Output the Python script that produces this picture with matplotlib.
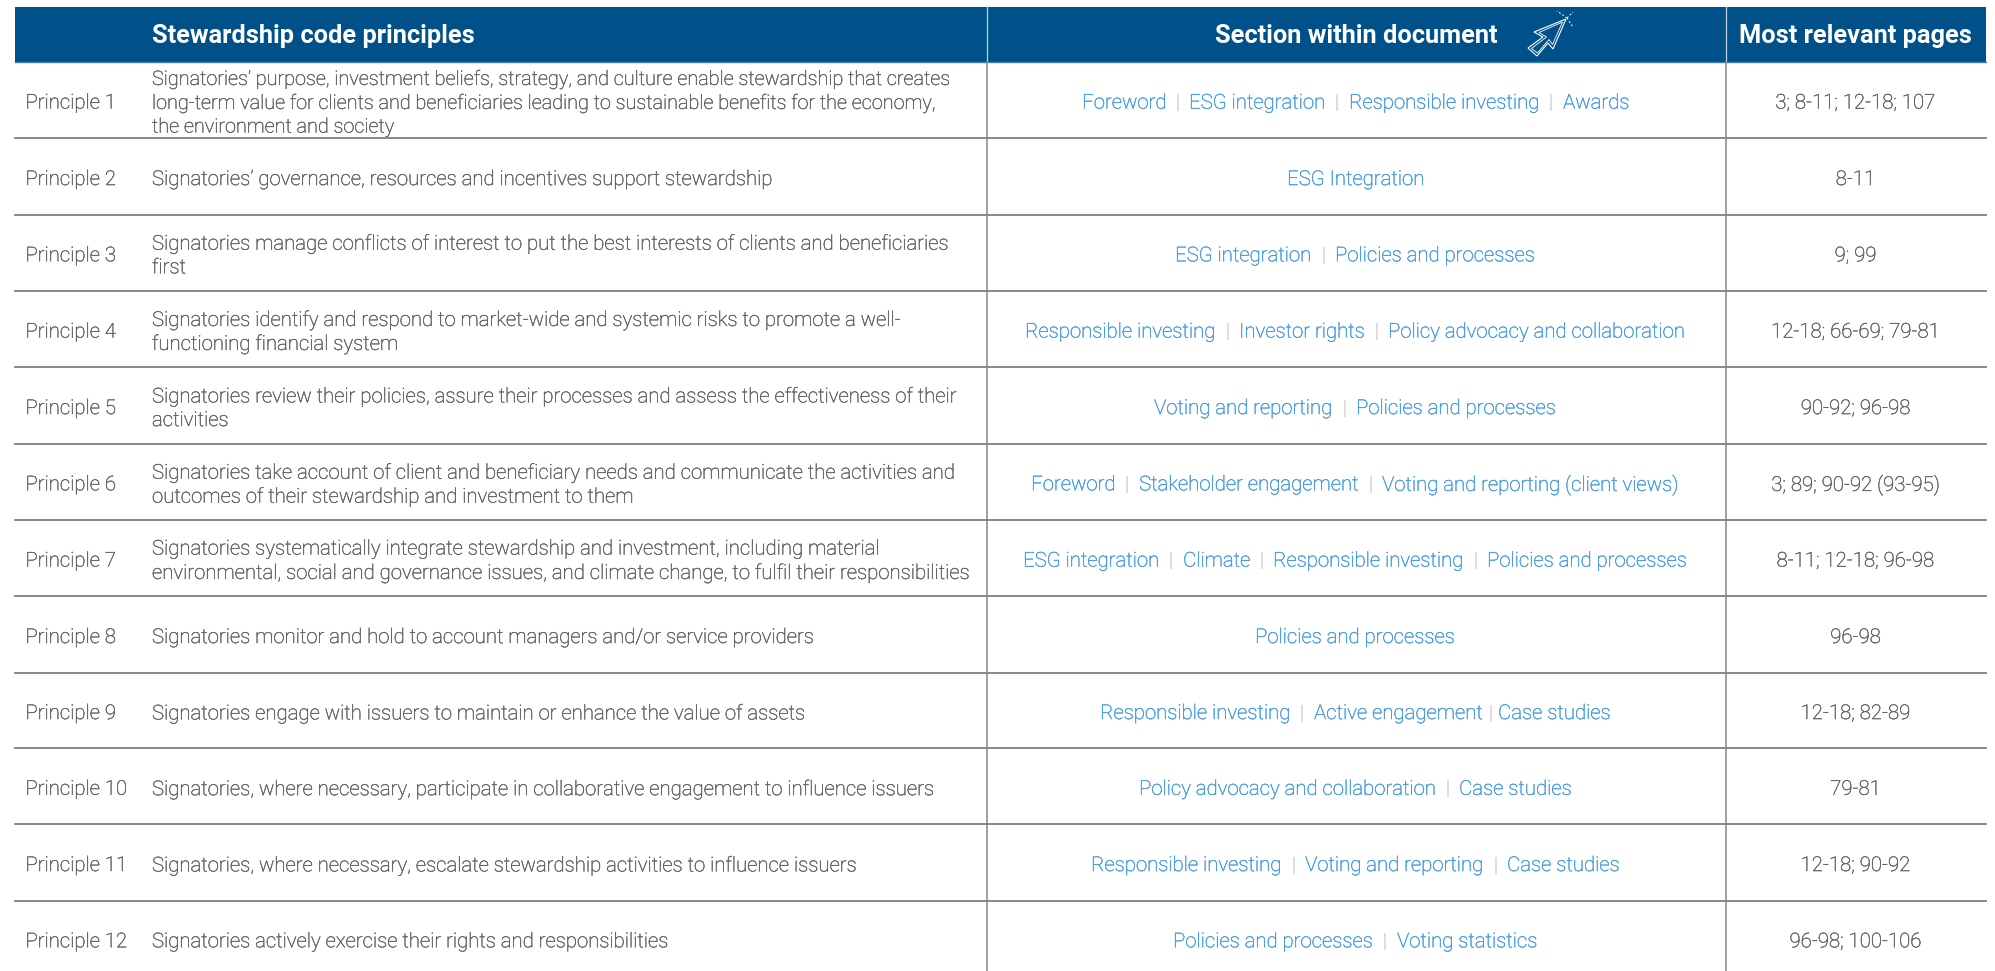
import matplotlib
matplotlib.use('Agg')
import matplotlib.pyplot as plt
import matplotlib.patheffects as pe
from matplotlib.patches import Rectangle, Polygon

plt.rcParams['font.family'] = ['Roboto', 'DejaVu Sans']

#
# Table content
#

headers = ['Stewardship code principles', 'Section within document', 'Most relevant pages']

principles = ['Principle %d' % i for i in range(1, 13)]

descriptions = [
    ['Signatories\u2019 purpose, investment beliefs, strategy, and culture enable stewardship that creates',
     'long-term value for clients and beneficiaries leading to sustainable benefits for the economy,',
     'the environment and society'],
    ['Signatories\u2019 governance, resources and incentives support stewardship'],
    ['Signatories manage conflicts of interest to put the best interests of clients and beneficiaries',
     'first'],
    ['Signatories identify and respond to market-wide and systemic risks to promote a well-',
     'functioning financial system'],
    ['Signatories review their policies, assure their processes and assess the effectiveness of their',
     'activities'],
    ['Signatories take account of client and beneficiary needs and communicate the activities and',
     'outcomes of their stewardship and investment to them'],
    ['Signatories systematically integrate stewardship and investment, including material',
     'environmental, social and governance issues, and climate change, to fulfil their responsibilities'],
    ['Signatories monitor and hold to account managers and/or service providers'],
    ['Signatories engage with issuers to maintain or enhance the value of assets'],
    ['Signatories, where necessary, participate in collaborative engagement to influence issuers'],
    ['Signatories, where necessary, escalate stewardship activities to influence issuers'],
    ['Signatories actively exercise their rights and responsibilities'],
]

sections = [
    ['Foreword', 'ESG integration', 'Responsible investing', 'Awards'],
    ['ESG Integration'],
    ['ESG integration', 'Policies and processes'],
    ['Responsible investing', 'Investor rights', 'Policy advocacy and collaboration'],
    ['Voting and reporting', 'Policies and processes'],
    ['Foreword', 'Stakeholder engagement', 'Voting and reporting (client views)'],
    ['ESG integration', 'Climate', 'Responsible investing', 'Policies and processes'],
    ['Policies and processes'],
    ['Responsible investing', 'Active engagement', 'Case studies'],
    ['Policy advocacy and collaboration', 'Case studies'],
    ['Responsible investing', 'Voting and reporting', 'Case studies'],
    ['Policies and processes', 'Voting statistics'],
]

pages = ['3; 8-11; 12-18; 107', '8-11', '9; 99', '12-18; 66-69; 79-81', '90-92; 96-98',
         '3; 89; 90-92 (93-95)', '8-11; 12-18; 96-98', '96-98', '12-18; 82-89', '79-81',
         '12-18; 90-92', '96-98; 100-106']

#
# Layout, in pixels of the 1995x971 picture
#

row_edges = [62, 138.5, 215, 291, 367.5, 444, 520, 596.5, 673, 748.5, 824.5, 901, 977]
col_lines = [987, 1725.7]
left, right = 15, 1986
blue = '#00508a'
link = '#459be2'
grey = '#616264'
fs = 14.65
header_fs = 18.3

fig = plt.figure(figsize=(19.95, 9.71), dpi=100)
ax = fig.add_axes([0, 0, 1, 1])
ax.set_xlim(0, 1995)
ax.set_ylim(971, 0)
ax.axis('off')


def body_text(x, y, s, color=grey, size=fs, ha='left'):
    # Roboto Light comes out too thin here, a hairline stroke brings it closer
    t = ax.text(x, y, s, color=color, fontsize=size, fontweight='light', va='center_baseline', ha=ha)
    t.set_path_effects([pe.withStroke(linewidth=0.3, foreground=color)])
    return t


# header band
ax.add_patch(Rectangle((left, 7.5), right - left, 54.5, fc=blue, ec='none'))
ax.plot([left, right], [62, 62], color='#3f7fae', lw=1)
for x in col_lines:
    ax.plot([x, x], [7.5, 62], color='#bcd0e0', lw=0.9)
    ax.plot([x, x], [62, 971], color='#858585', lw=1.1)

ax.text(152, 36, headers[0], color='white', fontsize=header_fs, fontweight='bold', va='center')
ax.text(1356, 36, headers[1], color='white', fontsize=header_fs, fontweight='bold', va='center', ha='center')
ax.text(1855.5, 36, headers[2], color='white', fontsize=header_fs, fontweight='bold', va='center', ha='center')

# cursor icon next to the section header
arrow = [(1566, 19), (1534, 32), (1543, 37), (1528, 48), (1537, 56), (1548, 43), (1553, 49)]
ax.add_patch(Polygon(arrow, closed=True, fc='none', ec='white', lw=0.8))
inner = [(1562.5, 22), (1539, 32.5), (1546.5, 37), (1531.5, 48.5), (1537.5, 53), (1549, 39.5), (1552.5, 44.5)]
ax.add_patch(Polygon(inner, closed=True, fc='none', ec='white', lw=0.6))
for end in [(1557, 11), (1573, 12), (1573, 27)]:
    ax.plot([1567, end[0]], [18, end[1]], color='white', lw=0.7, ls=(0, (2, 2)))

fig.canvas.draw()
renderer = fig.canvas.get_renderer()


def draw_links(items, y, tight=None):
    # sections are coloured separately, so centre the whole run by hand
    parts = []
    for i, item in enumerate(items):
        parts.append((item, link))
        if i < len(items) - 1:
            parts.append(('|', grey))
    texts = [body_text(0, y, p, color=c) for p, c in parts]
    widths = [t.get_window_extent(renderer).width for t in texts]
    gaps = [9.5] * (len(parts) - 1)
    if tight is not None:
        # the last separator in this row sits closer to its neighbours
        gaps[tight] = 5.5
        gaps[tight + 1] = 5.5
    x = 1355.5 - (sum(widths) + sum(gaps)) / 2
    for k, (t, w) in enumerate(zip(texts, widths)):
        # whole pixels keep the thin separators from fading in and out
        t.set_x(round(x) + 0.1)
        if k < len(gaps):
            x += w + gaps[k]


for i in range(12):
    top, bottom = row_edges[i], row_edges[i + 1]
    mid = (top + bottom) / 2 + 0.8
    if i < 11:
        ax.plot([left, right], [bottom, bottom], color='#7f7f7f', lw=1.3)
    body_text(25.5, mid, principles[i])
    n = len(descriptions[i])
    # the first row is set a little tighter in the original
    size = 14.3 if i == 0 else fs
    for j, line in enumerate(descriptions[i]):
        body_text(152, mid + (j - (n - 1) / 2) * 24, line, size=size)
    draw_links(sections[i], mid, tight=2 if i == 8 else None)
    body_text(1855.5, mid, pages[i], ha='center')

fig.savefig('out.png', dpi=100, facecolor='white')
plt.close()
